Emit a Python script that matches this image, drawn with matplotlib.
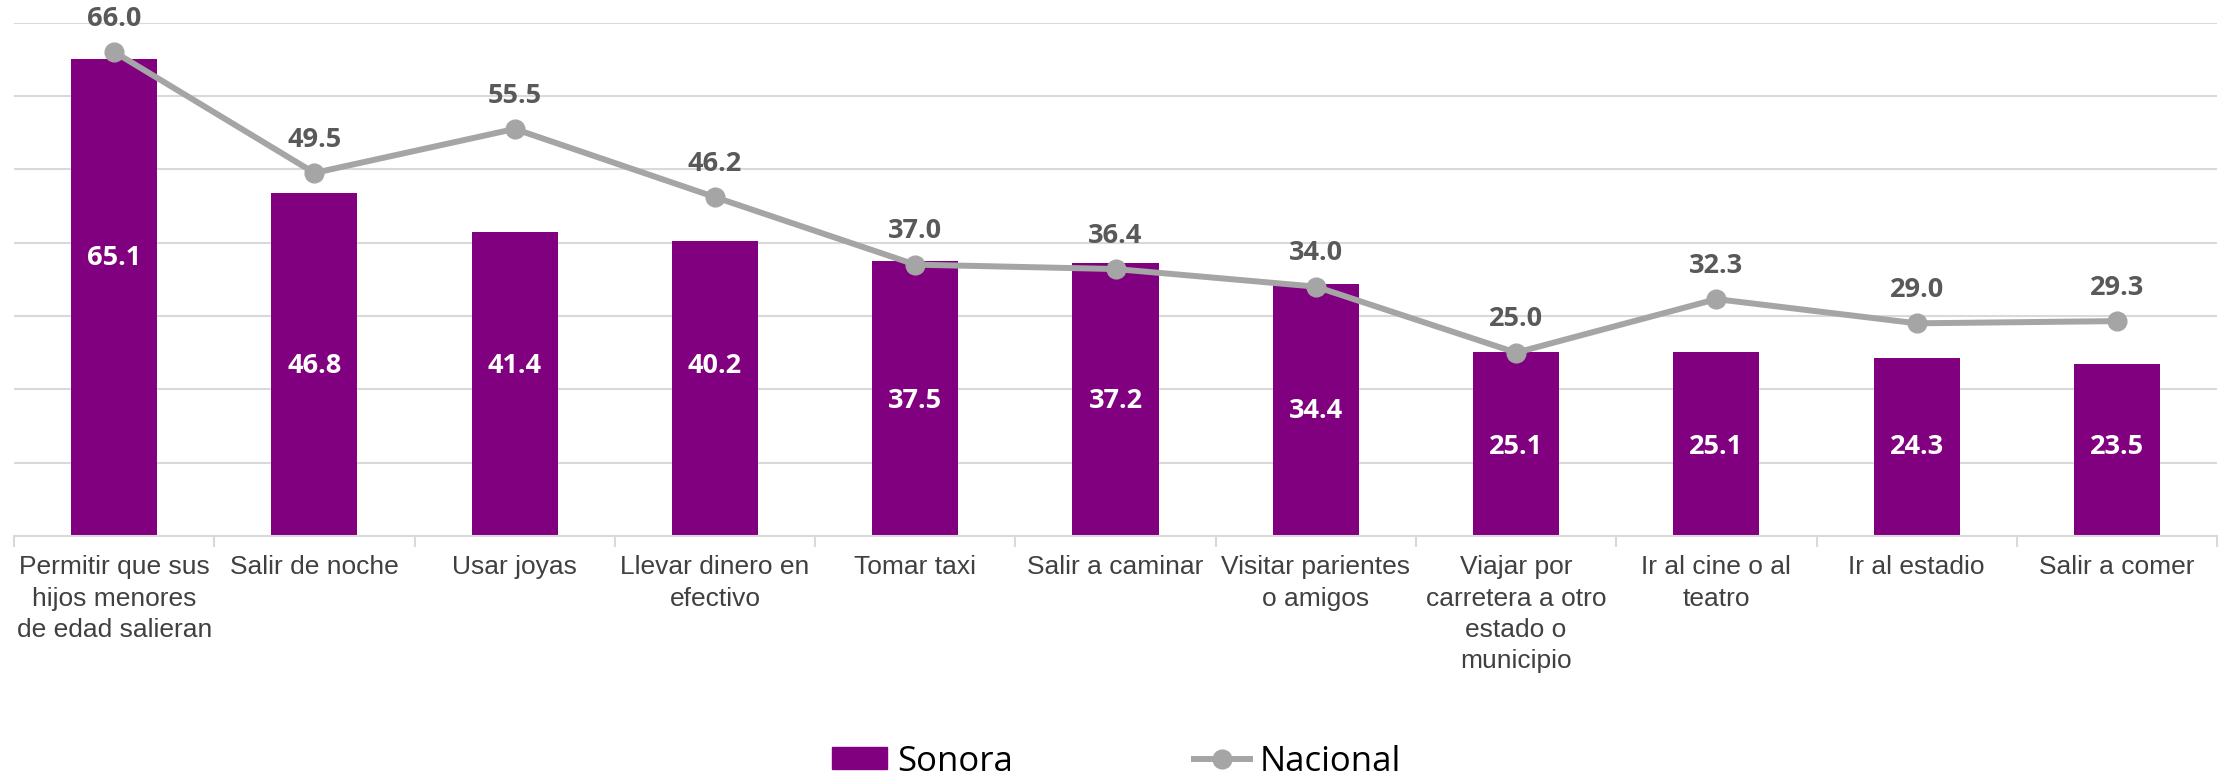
import matplotlib
matplotlib.use("Agg")
import matplotlib.pyplot as plt
import numpy as np
from matplotlib.lines import Line2D
from matplotlib.patches import Patch

categories = [
    "Permitir que sus\nhijos menores\nde edad salieran",
    "Salir de noche",
    "Usar joyas",
    "Llevar dinero en\nefectivo",
    "Tomar taxi",
    "Salir a caminar",
    "Visitar parientes\no amigos",
    "Viajar por\ncarretera a otro\nestado o\nmunicipio",
    "Ir al cine o al\nteatro",
    "Ir al estadio",
    "Salir a comer",
]
sonora = [65.1, 46.8, 41.4, 40.2, 37.5, 37.2, 34.4, 25.1, 25.1, 24.3, 23.5]
nacional = [66.0, 49.5, 55.5, 46.2, 37.0, 36.4, 34.0, 25.0, 32.3, 29.0, 29.3]
# vertical placement of the white bar labels (data units)
sonora_label_y = [37.9, 23.2, 23.2, 23.2, 18.4, 18.4, 17.0, 12.1, 12.1, 12.1, 12.1]

BAR = "#800080"
LINE = "#A5A5A5"
GRID = "#D9D9D9"
LBL = "#595959"

fig = plt.figure(figsize=(22.24, 7.78), dpi=100)
ax = fig.add_axes([0.0063, 0.311, 0.9906, 0.660])

x = np.arange(len(categories))
ax.bar(x, sonora, width=0.43, color=BAR, zorder=2)
ax.plot(x, nacional, color=LINE, lw=4.3, marker="o", ms=13.5, zorder=3)

for xi, v, ly in zip(x, sonora, sonora_label_y):
    ax.text(xi, ly, f"{v:.1f}", ha="center", va="center", color="white",
            fontsize=19.5, fontweight="bold", family=["Open Sans", "DejaVu Sans"], zorder=4)
for xi, v in zip(x, nacional):
    ax.annotate(f"{v:.1f}", (xi, v), xytext=(0, 24), textcoords="offset points",
                ha="center", va="center", color=LBL, fontsize=19.5, fontweight="bold",
                family=["Open Sans", "DejaVu Sans"], zorder=4, annotation_clip=False)

ax.set_xlim(-0.5, len(categories) - 0.5)
ax.set_ylim(0, 70)
ax.set_yticks(np.arange(0, 71, 10))
ax.yaxis.grid(True, color=GRID, lw=1.5, zorder=0)
ax.tick_params(axis="y", left=False, labelleft=False)
for s in ["top", "right", "left"]:
    ax.spines[s].set_visible(False)
ax.spines["bottom"].set_color(GRID)
ax.spines["bottom"].set_linewidth(1.5)

ax.set_xticks(x)
ax.set_xticklabels(categories, fontsize=19, color="#404040",
                   family=["Liberation Sans", "DejaVu Sans"], linespacing=1.38)
ax.tick_params(axis="x", length=0, pad=14)
ax.set_xticks(np.arange(-0.5, len(categories)), minor=True)
ax.tick_params(axis="x", which="minor", length=8, color=GRID, width=1.5)

handles = [Patch(facecolor=BAR, edgecolor=BAR),
           Line2D([0], [0], color=LINE, lw=4.3, marker="o", ms=13.5)]
fig.legend(handles, ["Sonora", "Nacional"], loc="center", bbox_to_anchor=(0.502, 0.021),
           ncol=2, frameon=False, handlelength=1.6, handleheight=0.6, handletextpad=0.3,
           columnspacing=5.2, prop={"family": ["Open Sans", "DejaVu Sans"], "size": 25})

fig.savefig("out.png", dpi=100)
